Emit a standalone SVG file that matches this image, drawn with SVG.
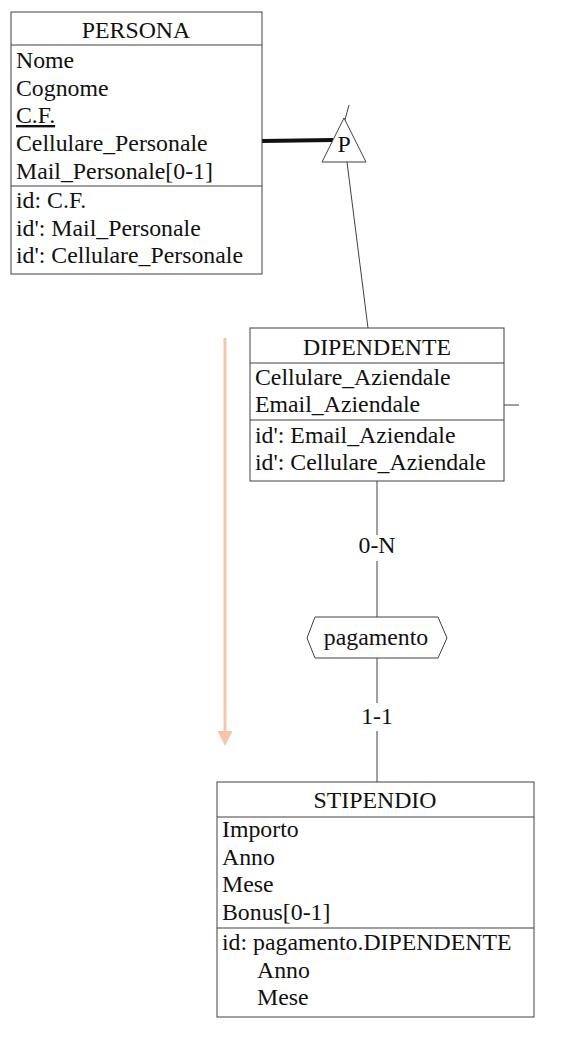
<svg xmlns="http://www.w3.org/2000/svg" width="570" height="1042" viewBox="0 0 570 1042">
<style>
.box{fill:#fff;stroke:#404040;stroke-width:1}
.sep{stroke:#404040;stroke-width:1}
.ln{stroke:#404040;stroke-width:1;fill:none}
text{font-family:'Liberation Serif','Times New Roman',serif;font-size:23.8px;fill:#111}
.c{text-anchor:middle}
</style>
<defs>
<marker id="ah" markerWidth="5" markerHeight="5" refX="0" refY="2.5" orient="auto" markerUnits="strokeWidth">
<path d="M0,0 L5,2.5 L0,5 Z" fill="#f7c5ab"/>
</marker>
</defs>
<rect width="570" height="1042" fill="#fff"/>
<g id="connectors">
<line x1="262" y1="141" x2="333" y2="140" stroke="#111" stroke-width="4"/>
<line class="ln" x1="349" y1="105" x2="343" y2="127"/>
<line class="ln" x1="347" y1="162" x2="368" y2="328"/>
<line class="ln" x1="504" y1="405" x2="519" y2="405"/>
<line class="ln" x1="377" y1="481" x2="377" y2="535"/>
<line class="ln" x1="377" y1="561" x2="377" y2="617"/>
<line class="ln" x1="377" y1="658" x2="377" y2="703"/>
<line class="ln" x1="377" y1="731" x2="377" y2="782"/>
<text class="c" x="377" y="553">0-N</text>
<text class="c" x="377" y="724">1-1</text>
<line x1="225" y1="338" x2="225" y2="731" stroke="#f7c5ab" stroke-width="3" marker-end="url(#ah)"/>
</g>
<g id="persona">
<rect class="box" x="11" y="12" width="251" height="262"/>
<line class="sep" x1="11" y1="45" x2="262" y2="45"/>
<line class="sep" x1="11" y1="186" x2="262" y2="186"/>
<text class="c" x="136" y="38">PERSONA</text>
<text x="16" y="68">Nome</text>
<text x="16" y="96">Cognome</text>
<text x="16" y="123" text-decoration="underline">C.F.</text>
<text x="16" y="151">Cellulare_Personale</text>
<text x="16" y="179">Mail_Personale[0-1]</text>
<text x="16" y="208">id: C.F.</text>
<text x="16" y="236">id': Mail_Personale</text>
<text x="16" y="263">id': Cellulare_Personale</text>
</g>
<g id="isa">
<polygon points="344,118 322,162 366,162" fill="#fff" stroke="#404040" stroke-width="1"/>
<text class="c" x="344" y="152">P</text>
</g>
<g id="dipendente">
<rect class="box" x="250" y="328" width="254" height="153"/>
<line class="sep" x1="250" y1="363" x2="504" y2="363"/>
<line class="sep" x1="250" y1="420" x2="504" y2="420"/>
<text class="c" x="377" y="355">DIPENDENTE</text>
<text x="255" y="385">Cellulare_Aziendale</text>
<text x="255" y="412">Email_Aziendale</text>
<text x="255" y="443">id': Email_Aziendale</text>
<text x="255" y="470">id': Cellulare_Aziendale</text>
</g>
<g id="pagamento">
<polygon points="307,638 315,617 438,617 447,638 438,658 315,658" fill="#fff" stroke="#404040" stroke-width="1"/>
<text class="c" x="376" y="645">pagamento</text>
</g>
<g id="stipendio">
<rect class="box" x="217" y="782" width="317" height="235"/>
<line class="sep" x1="217" y1="817" x2="534" y2="817"/>
<line class="sep" x1="217" y1="928" x2="534" y2="928"/>
<text class="c" x="375" y="808">STIPENDIO</text>
<text x="222" y="837">Importo</text>
<text x="222" y="865">Anno</text>
<text x="222" y="892">Mese</text>
<text x="222" y="920">Bonus[0-1]</text>
<text x="222" y="950">id: pagamento.DIPENDENTE</text>
<text x="257" y="978">Anno</text>
<text x="257" y="1005">Mese</text>
</g>
</svg>
